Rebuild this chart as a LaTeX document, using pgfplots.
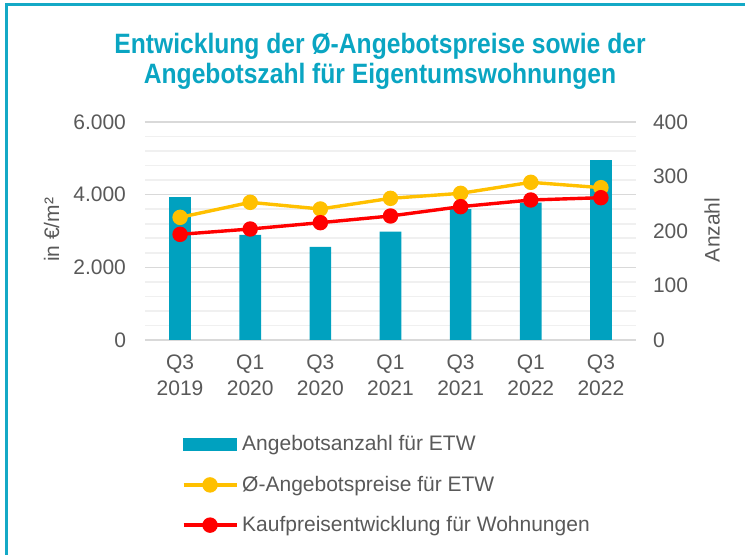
\documentclass[border=0pt]{standalone}
\usepackage{fontspec}
\setmainfont{Liberation Sans}
\newfontfamily\titlefont[FakeStretch=0.88]{Liberation Sans}
\usepackage{pgfplots}
\pgfplotsset{compat=1.18}
\definecolor{framecol}{HTML}{14A9C6}
\definecolor{titlecol}{HTML}{0AA5C2}
\definecolor{barcol}{HTML}{00A1BF}
\definecolor{yellowcol}{HTML}{FFC000}
\definecolor{redcol}{HTML}{FF0000}
\definecolor{txtgray}{HTML}{595959}

% Angebotszahl (rechte Achse) und Preise in EUR/m2 (linke Achse)
\pgfplotstableread{
x  anzahl preis kauf
0  262    3376  2908
1  193    3789  3055
2  171    3606  3229
3  199    3899  3413
4  240    4037  3670
5  252    4340  3853
6  330    4193  3917
}\daten

\pgfplotsset{
  base/.style={
    at={(72.5pt,107.5pt)}, anchor=south west,
    scale only axis, width=245.5pt, height=109pt,
    xmin=-0.5, xmax=6.5,
    major tick length=0pt, minor tick length=0pt,
    axis line style={draw=none},
    tick label style={font=\fontsize{10.5}{13}\selectfont, text=txtgray},
    label style={font=\fontsize{10.5}{13}\selectfont, text=txtgray},
    /pgf/number format/assume math mode=true,
    /pgf/number format/1000 sep={.},
  },
  dotline/.style={legend image code/.code={
    \draw[mark repeat=2, mark phase=2] plot coordinates {(0pt,0pt) (13.25pt,0pt) (26.5pt,0pt)};}},
}

\begin{document}
\begin{tikzpicture}
\useasboundingbox (0,0) rectangle (372.5pt,277.5pt);
\draw[framecol, line width=1.2pt] (3.25pt,0) -- (3.25pt,275.3pt) -- (372.5pt,275.3pt);
\node[font=\titlefont\bfseries\fontsize{14}{15}\selectfont, text=titlecol, align=center]
  at (190pt,247pt) {Entwicklung der Ø-Angebotspreise sowie der\\Angebotszahl für Eigentumswohnungen};

% Gitter, linke Achse, Kategorien
\begin{axis}[base,
  ymin=0, ymax=6000,
  ytick={0,2000,4000,6000},
  minor ytick={400,800,...,5600},
  ymajorgrids, yminorgrids,
  major grid style={draw=black!15, line width=0.8pt},
  minor grid style={draw=black!6, line width=0.8pt},
  xtick={0,...,6},
  xticklabels={{Q3\\2019},{Q1\\2020},{Q3\\2020},{Q1\\2021},{Q3\\2021},{Q1\\2022},{Q3\\2022}},
  x tick label style={align=center, yshift=-4pt},
  yticklabel style={xshift=-6pt},
  ylabel={in €/m²},
  ylabel style={at={(axis description cs:-0.19,0.505)}, anchor=center, rotate=0},
]
\addplot[draw=none] coordinates {(0,0)};
\end{axis}

% Balken, rechte Achse
\begin{axis}[base,
  ymin=0, ymax=400,
  axis y line*=right, axis x line=none,
  ytick={0,100,...,400},
  yticklabel style={xshift=5pt},
  ylabel={Anzahl},
  ylabel style={at={(axis description cs:1.155,0.505)}, anchor=center},
]
\addplot[ybar, bar width=10.85pt, fill=barcol, draw=none] table[x=x, y=anzahl] {\daten};
\end{axis}

% Linien, linke Achse, Legende
\begin{axis}[base,
  ymin=0, ymax=6000,
  hide axis,
  legend cell align=left,
  legend style={at={(axis description cs:0.062,-0.40)}, anchor=north west,
    draw=none, fill=none, font=\fontsize{10.5}{13}\selectfont, text=txtgray,
    row sep=7pt},
]
\addlegendimage{legend image code/.code={\fill[barcol] (0pt,-3pt) rectangle (26.5pt,3pt);}}
\addlegendentry{Angebotsanzahl für ETW}
\addplot[yellowcol, line width=1.7pt, mark=*, mark size=3pt, dotline] table[x=x, y=preis] {\daten};
\addlegendentry{Ø-Angebotspreise für ETW}
\addplot[redcol, line width=1.7pt, mark=*, mark size=3pt, dotline] table[x=x, y=kauf] {\daten};
\addlegendentry{Kaufpreisentwicklung für Wohnungen}
\end{axis}
\end{tikzpicture}
\end{document}
